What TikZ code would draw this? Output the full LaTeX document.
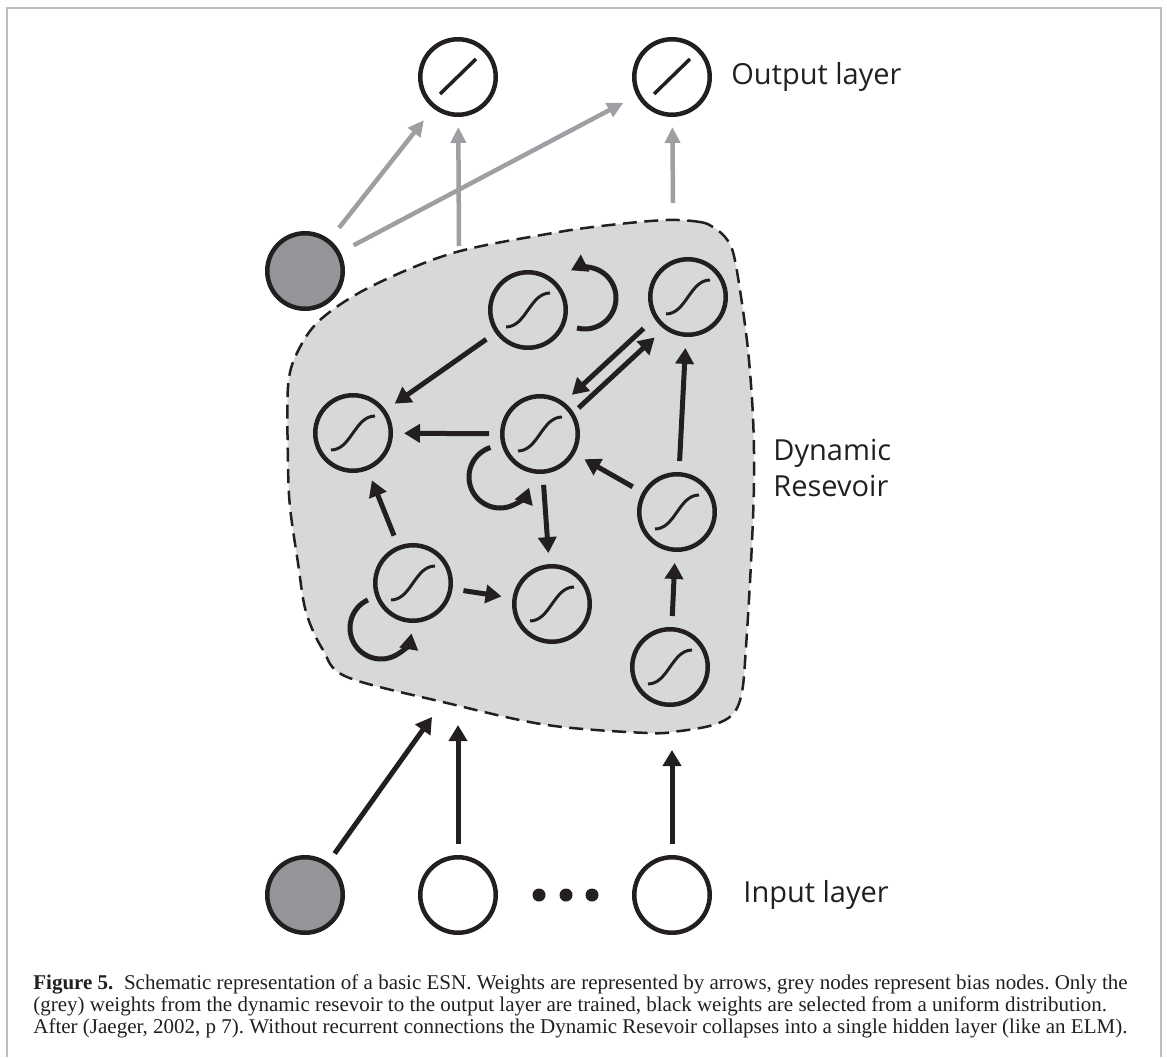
\documentclass[tikz,border=0pt]{standalone}
\usepackage{fontspec}
\setmainfont{Liberation Serif}
\newfontfamily\labelfont{Open Sans}
\usetikzlibrary{positioning,calc,arrows.meta}
\definecolor{ink}{RGB}{35,31,32}
\definecolor{biasgrey}{RGB}{147,149,152}
\definecolor{resgrey}{RGB}{215,216,218}
\definecolor{weightgrey}{RGB}{157,159,162}
\definecolor{framegrey}{RGB}{190,190,190}
\tikzset{unit/.style={circle,draw=ink,line width=2.25pt,minimum size=37.75pt,inner sep=0pt},
neuron/.style={unit,path picture={\draw[ink,line width=1.5pt]
([shift={(-11pt,-8.5pt)}]path picture bounding box.center) .. controls +(10pt,0pt) and +(-10pt,0pt) .. ([shift={(11pt,8.5pt)}]path picture bounding box.center);}},
linear/.style={unit,path picture={\draw[ink,line width=1.75pt]
([shift={(-9pt,-8.5pt)}]path picture bounding box.center) -- ([shift={(9pt,9pt)}]path picture bounding box.center);}},
bias/.style={unit,fill=biasgrey},
wire/.style={ink,line width=2.5pt,-{Triangle[length=8pt,width=9pt]},shorten <=5.5pt,shorten >=5.5pt},
trained/.style={weightgrey,line width=2.25pt,-{Triangle[length=8pt,width=7.5pt]},shorten <=7.5pt,shorten >=7.5pt},
reservoir/.style={draw=ink,fill=resgrey,line width=1.25pt,dash pattern=on 7pt off 3.75pt},
lbl/.style={font=\labelfont\fontsize{14.5}{18}\selectfont,inner sep=0pt,text=ink},
caption/.style={font=\rmfamily\fontsize{10.5}{11}\selectfont\frenchspacing,inner sep=0pt,align=left,text=ink}}
\newcommand{\Link}[3][wire]{\draw[#1] (#2) -- (#3);
}
\newcommand{\Loop}[4]{\draw[wire,shorten <=0pt,shorten >=0pt] ($(#1)+(#2)+(#3:31)$) arc[start angle=#3,end angle=#4,radius=31];
}

\begin{document}
\begin{tikzpicture}[x=0.5pt,y=0.5pt,node distance=36.5pt]
    \useasboundingbox (0,0) rectangle (1167,1057);
    % frame
    \draw[framegrey,line width=1pt] (7,0) -- (7,1049) -- (1161,1049) -- (1161,0);
    % reservoir
    \draw[reservoir] plot[smooth cycle,tension=0.55] coordinates {(667,837) (700,835) (713,830) (725,820) (733,805)
        (740,767) (748,707) (753,640) (754,574) (751,494) (746,410) (742,365) (733,343) (713,332) (680,326)
        (647,324) (547,332) (447,354) (347,380) (323,407) (306,445) (298,494) (290,550) (288,594) (288,670)
        (297,704) (320,737) (370,770) (453,804) (553,824) (610,832)};
    \node[neuron] (res-a) at (528,747) {};
    \node[neuron] (res-b) at (688,760) {};
    \node[neuron] (res-c) at (353,624) {};
    \node[neuron] (res-d) at (540,623) {};
    \node[neuron] (res-e) at (677,545) {};
    \node[neuron] (res-f) at (413,474) {};
    \node[neuron] (res-g) at (552,453) {};
    \node[neuron] (res-h) at (670,390) {};
    \node[lbl,align=left,anchor=west] (res-label) at (773,589) {Dynamic\\Resevoir};
    % output layer
    \node[linear] (out-a) at (458,980) {};
    \node[linear,right=67pt of out-a] (out-b) {};
    \node[lbl,right=9.5pt of out-b] (out-label) {Output layer};
    \node[bias] (bias-top) at (305,786) {};
    % input layer
    \node[bias] (bias-in) at (305,162) {};
    \node[unit,right=of bias-in] (in-a) {};
    \node[unit,right=67pt of in-a] (in-b) {};
    \node[lbl,right=15.5pt of in-b] (in-label) {Input layer};
    \fill[ink] (539,162) circle[radius=6.5] (566,162) circle[radius=6.5] (592,162) circle[radius=6.5];
    % free ends at the reservoir
    \coordinate (res-in-a) at (432,340);
    \coordinate (res-in-b) at (458,332);
    \coordinate (res-in-c) at (672,307);
    \coordinate (res-out-a) at (459,811);
    \coordinate (res-out-b) at (673,854);
    % links
    \Link{res-a}{res-c}
    \Link{res-d}{res-c}
    \Link{res-e}{res-b}
    \Link{res-e}{res-d}
    \Link{res-d}{res-g}
    \Link{res-f}{res-c}
    \Link{res-f}{res-g}
    \Link{res-h}{res-e}
    \Link[wire,shorten <=7pt,shorten >=5pt,transform canvas={shift={(-2.4pt,2.6pt)}}]{res-b}{res-d}
    \Link[wire,shorten <=3pt,shorten >=6pt,transform canvas={shift={(2.4pt,-2.6pt)}}]{res-d}{res-b}
    \Loop{res-f}{-32,-45}{115}{350}
    \Loop{res-d}{-40,-43}{108}{340}
    \Loop{res-a}{57,12}{-105}{117}
    \Link[wire,shorten >=0pt]{bias-in}{res-in-a}
    \Link[wire,shorten >=0pt]{in-a}{res-in-b}
    \Link[wire,shorten >=0pt]{in-b}{res-in-c}
    \Link[trained]{bias-top}{out-a}
    \Link[trained]{bias-top}{out-b}
    \Link[trained,shorten <=0pt,shorten >=5pt]{res-out-a}{out-a}
    \Link[trained,shorten <=0pt,shorten >=5pt]{res-out-b}{out-b}
    % caption
    \node[caption,anchor=base west] (caption) at (33,24) {\textbf{Figure 5.}\enspace Schematic representation of a basic ESN. Weights are represented by arrows, grey nodes represent bias nodes. Only the\\
    (grey) weights from the dynamic resevoir to the output layer are trained, black weights are selected from a uniform distribution.\\
    After (Jaeger, 2002, p 7). Without recurrent connections the Dynamic Resevoir collapses into a single hidden layer (like an ELM).};
\end{tikzpicture}
\end{document}
